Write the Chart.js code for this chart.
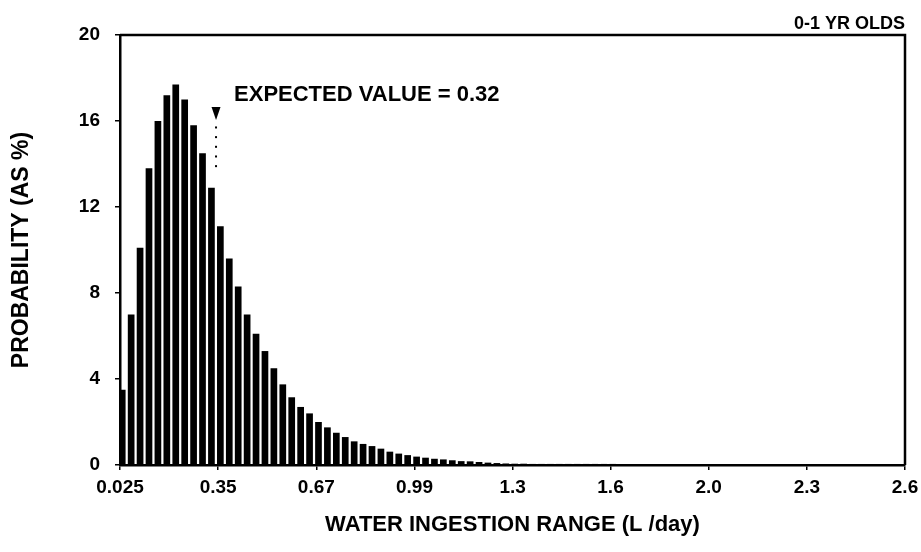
<!DOCTYPE html>
<html lang="en">
<head>
  <meta charset="UTF-8">
  <title>Water Ingestion Probability - 0-1 yr olds</title>
  <script src="https://cdn.jsdelivr.net/npm/chart.js@4.4.0/dist/chart.umd.min.js"></script>
  <style>
    html, body { margin: 0; padding: 0; background: #fff; }
    .chart-box { position: relative; width: 921px; height: 552px; }
  </style>
</head>
<body>
  <div class="chart-box">
    <canvas id="ingestionChart" width="921" height="552"></canvas>
  </div>

  <script>
    // x axis runs from 0.025 to 2.6 L/day, printed ticks are evenly spaced
    const xMin = 0.025;
    const xMax = 2.6;
    const tickPositions = [0.025, 0.347, 0.669, 0.991, 1.313, 1.634, 1.956, 2.278, 2.6];
    const tickLabels = ['0.025', '0.35', '0.67', '0.99', '1.3', '1.6', '2.0', '2.3', '2.6'];
    const yTicks = [0, 4, 8, 12, 16, 20];

    // probability (%) per ingestion bin left to right
    const probability = [
      3.5, 7.0, 10.1, 13.8, 16.0, 17.2, 17.7, 17.0, 15.8, 14.5,
      12.9, 11.1, 9.6, 8.3, 7.0, 6.1, 5.3, 4.5, 3.75, 3.15,
      2.7, 2.4, 2.0, 1.75, 1.5, 1.3, 1.1, 0.98, 0.88, 0.76,
      0.62, 0.53, 0.46, 0.39, 0.34, 0.29, 0.26, 0.22, 0.18, 0.17,
      0.14, 0.11, 0.09, 0.07, 0.06, 0.06, 0.05, 0.05, 0.05, 0.05,
      0.05, 0.05, 0.05, 0.05, 0.05, 0.05, 0.04, 0.04, 0.04, 0.04,
      0.04, 0.04, 0.04, 0.04, 0.04, 0.04, 0.04, 0.04, 0.04, 0.04,
      0.04, 0.04, 0.04, 0.04, 0.04, 0.04, 0.04, 0.04, 0.04, 0.04,
      0.04, 0.04, 0.04, 0.04, 0.04, 0.04, 0.04, 0.04
    ];

    const groupLabel = '0-1 YR OLDS';
    const expectedLabel = 'EXPECTED VALUE = 0.32';
    const expectedMarkerAt = 0.34; // where the arrow sits against the printed axis

    const binWidth = (xMax - xMin) / probability.length;
    const barData = probability.map((v, i) => ({ x: xMin + (i + 0.25) * binWidth, y: v }));

    const fontFamily = '"Liberation Sans", Arial, Helvetica, sans-serif';

    // box lines, expected-value arrow and the text labels
    const extras = {
      id: 'extras',
      afterDatasetsDraw(chart) {
        const { ctx, chartArea: a, scales: { x, y } } = chart;
        ctx.save();
        ctx.strokeStyle = '#000';
        ctx.lineWidth = 2.5;
        ctx.beginPath();
        ctx.moveTo(a.left, a.top);
        ctx.lineTo(a.right, a.top);
        ctx.lineTo(a.right, a.bottom);
        ctx.stroke();

        const mx = x.getPixelForValue(expectedMarkerAt);
        const ty = y.getPixelForValue(16.65);
        ctx.fillStyle = '#000';
        ctx.beginPath();
        ctx.moveTo(mx - 4.5, ty);
        ctx.lineTo(mx + 4.5, ty);
        ctx.lineTo(mx, ty + 13);
        ctx.closePath();
        ctx.fill();
        for (let v = 15.7; v > 13.5; v -= 0.45) {
          ctx.fillRect(mx - 1, y.getPixelForValue(v) - 1, 2, 2);
        }

        ctx.font = 'bold 22px ' + fontFamily;
        ctx.textBaseline = 'middle';
        ctx.textAlign = 'left';
        ctx.fillText(expectedLabel, mx + 18, y.getPixelForValue(17.2));

        ctx.font = 'bold 18px ' + fontFamily;
        ctx.textAlign = 'right';
        ctx.fillText(groupLabel, a.right, 24);
        ctx.restore();
      }
    };

    new Chart(document.getElementById('ingestionChart').getContext('2d'), {
      type: 'bar',
      data: {
        datasets: [{
          data: barData,
          backgroundColor: '#000',
          borderWidth: 0,
          barPercentage: 0.75,
          categoryPercentage: 1.0
        }]
      },
      options: {
        responsive: false,
        animation: false,
        devicePixelRatio: 1,
        layout: { padding: { top: 35, right: 0, bottom: 0, left: 0 } },
        plugins: { legend: { display: false }, tooltip: { enabled: false } },
        scales: {
          x: {
            type: 'linear',
            min: xMin,
            max: xMax,
            offset: false,
            afterBuildTicks: s => { s.ticks = tickPositions.map(v => ({ value: v })); },
            afterFit: s => { s.height = 87; s.paddingLeft = 0; s.paddingRight = 16; },
            ticks: {
              autoSkip: false,
              maxRotation: 0,
              padding: 6,
              color: '#000',
              font: { family: fontFamily, size: 19, weight: 'bold' },
              callback: (v, i) => tickLabels[i]
            },
            grid: { offset: false, drawOnChartArea: false, tickLength: 5, color: '#000', lineWidth: 1.5 },
            border: { color: '#000', width: 2.5 },
            title: {
              display: true,
              text: 'WATER INGESTION RANGE (L /day)',
              color: '#000',
              font: { family: fontFamily, size: 22, weight: 'bold' },
              padding: { top: 0, bottom: 14 }
            }
          },
          y: {
            min: 0,
            max: 20,
            afterBuildTicks: s => { s.ticks = yTicks.map(v => ({ value: v })); },
            afterFit: s => { s.width = 120; },
            ticks: {
              padding: 15,
              color: '#000',
              font: { family: fontFamily, size: 19, weight: 'bold' }
            },
            grid: { drawOnChartArea: false, tickLength: 5, color: '#000', lineWidth: 1.5 },
            border: { color: '#000', width: 2.5 },
            title: {
              display: true,
              text: 'PROBABILITY (AS %)',
              color: '#000',
              font: { family: fontFamily, size: 23, weight: 'bold' },
              padding: { top: 8, bottom: 0 }
            }
          }
        }
      },
      plugins: [extras]
    });
  </script>
</body>
</html>
